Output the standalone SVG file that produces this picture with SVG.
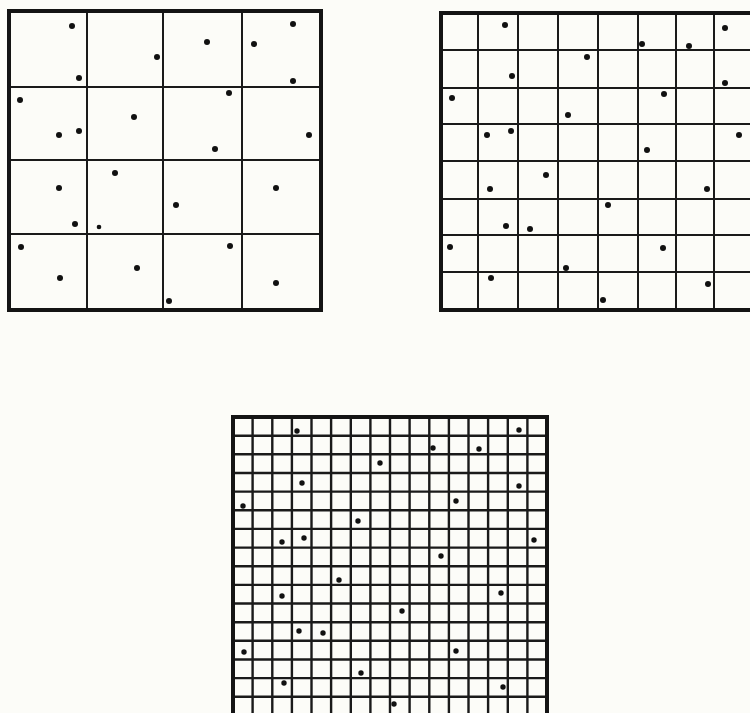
<svg xmlns="http://www.w3.org/2000/svg" width="750" height="713" viewBox="0 0 750 713">
<style>
.bg{fill:#fcfcf8}
.border{fill:none;stroke:#141414;stroke-width:4}
.ln{stroke:#1a1a1a;stroke-width:2;fill:none}
.ln3{stroke:#1a1a1a;stroke-width:2.4;fill:none}
.dot{fill:#111}
</style>
<rect class="bg" x="0" y="0" width="750" height="713"/>
<g id="grid1">
<path class="ln" d="M87,11V310M163,11V310M242,11V310M9,87H321M9,160H321M9,234H321"/>
<rect class="border" x="9" y="11" width="312" height="299"/>
<g class="dot">
<circle cx="72" cy="26" r="3"/><circle cx="79" cy="78" r="3"/><circle cx="157" cy="57" r="3"/><circle cx="207" cy="42" r="3"/>
<circle cx="254" cy="44" r="3"/><circle cx="293" cy="24" r="3"/><circle cx="293" cy="81" r="3"/><circle cx="20" cy="100" r="3"/>
<circle cx="229" cy="93" r="3"/><circle cx="134" cy="117" r="3"/><circle cx="59" cy="135" r="3"/><circle cx="79" cy="131" r="3"/>
<circle cx="309" cy="135" r="3"/><circle cx="215" cy="149" r="3"/><circle cx="115" cy="173" r="3"/><circle cx="59" cy="188" r="3"/>
<circle cx="276" cy="188" r="3"/><circle cx="176" cy="205" r="3"/><circle cx="75" cy="224" r="3"/><circle cx="99" cy="227" r="2.3"/>
<circle cx="21" cy="247" r="3"/><circle cx="230" cy="246" r="3"/><circle cx="137" cy="268" r="3"/><circle cx="60" cy="278" r="3"/>
<circle cx="276" cy="283" r="3"/><circle cx="169" cy="301" r="3"/>
</g>
</g>
<g id="grid2">
<path class="ln" d="M478,13V310M518,13V310M558,13V310M598,13V310M638,13V310M676,13V310M714,13V310M441,50H760M441,88H760M441,124H760M441,161H760M441,199H760M441,235H760M441,272H760"/>
<rect class="border" x="441" y="13" width="312" height="297"/>
<g class="dot">
<circle cx="505" cy="25" r="3"/><circle cx="725" cy="28" r="3"/><circle cx="642" cy="44" r="3"/><circle cx="689" cy="46" r="3"/>
<circle cx="587" cy="57" r="3"/><circle cx="512" cy="76" r="3"/><circle cx="725" cy="83" r="3"/><circle cx="452" cy="98" r="3"/>
<circle cx="664" cy="94" r="3"/><circle cx="568" cy="115" r="3"/><circle cx="487" cy="135" r="3"/><circle cx="511" cy="131" r="3"/>
<circle cx="739" cy="135" r="3"/><circle cx="647" cy="150" r="3"/><circle cx="546" cy="175" r="3"/><circle cx="490" cy="189" r="3"/>
<circle cx="707" cy="189" r="3"/><circle cx="608" cy="205" r="3"/><circle cx="506" cy="226" r="3"/><circle cx="530" cy="229" r="3"/>
<circle cx="450" cy="247" r="3"/><circle cx="663" cy="248" r="3"/><circle cx="566" cy="268" r="3"/><circle cx="491" cy="278" r="3"/>
<circle cx="708" cy="284" r="3"/><circle cx="603" cy="300" r="3"/>
</g>
</g>
<g id="grid3">
<path class="ln3" d="M252.6,417V716M272.3,417V716M291.9,417V716M311.5,417V716M331.1,417V716M350.8,417V716M370.4,417V716M390,417V716M409.6,417V716M429.3,417V716M448.9,417V716M468.5,417V716M488.1,417V716M507.8,417V716M527.4,417V716
M233,435.7H547M233,454.3H547M233,473H547M233,491.6H547M233,510.3H547M233,528.9H547M233,547.6H547M233,566.2H547M233,584.9H547M233,603.5H547M233,622.2H547M233,640.8H547M233,659.5H547M233,678.1H547M233,696.8H547"/>
<path class="border" d="M233,718V417H547V718"/>
<g class="dot">
<circle cx="297" cy="431" r="2.7"/><circle cx="519" cy="430" r="2.7"/><circle cx="433" cy="448" r="2.7"/><circle cx="479" cy="449" r="2.7"/>
<circle cx="380" cy="463" r="2.7"/><circle cx="302" cy="483" r="2.7"/><circle cx="519" cy="486" r="2.7"/><circle cx="243" cy="506" r="2.7"/>
<circle cx="456" cy="501" r="2.7"/><circle cx="358" cy="521" r="2.7"/><circle cx="282" cy="542" r="2.7"/><circle cx="304" cy="538" r="2.7"/>
<circle cx="534" cy="540" r="2.7"/><circle cx="441" cy="556" r="2.7"/><circle cx="339" cy="580" r="2.7"/><circle cx="282" cy="596" r="2.7"/>
<circle cx="501" cy="593" r="2.7"/><circle cx="402" cy="611" r="2.7"/><circle cx="299" cy="631" r="2.7"/><circle cx="323" cy="633" r="2.7"/>
<circle cx="244" cy="652" r="2.7"/><circle cx="456" cy="651" r="2.7"/><circle cx="361" cy="673" r="2.7"/><circle cx="284" cy="683" r="2.7"/>
<circle cx="503" cy="687" r="2.7"/><circle cx="394" cy="704" r="2.7"/>
</g>
</g>
</svg>
